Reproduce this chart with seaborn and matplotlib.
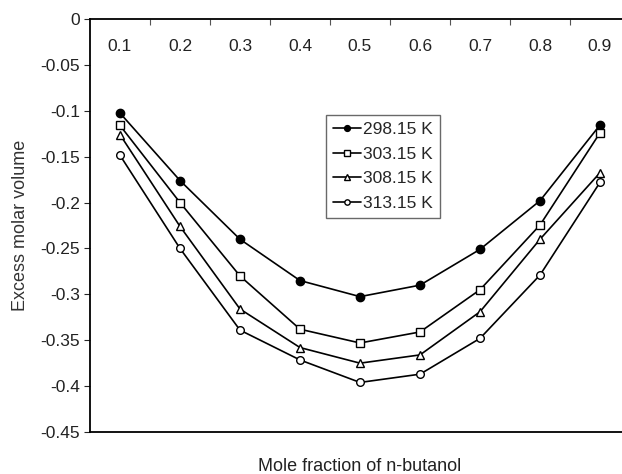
import matplotlib
matplotlib.use("Agg")
import matplotlib.pyplot as plt
import seaborn as sns
import pandas as pd
import numpy as np

x_vals = [0.1, 0.2, 0.3, 0.4, 0.5, 0.6, 0.7, 0.8, 0.9]
x_labels = ["0.1", "0.2", "0.3", "0.4", "0.5", "0.6", "0.7", "0.8", "0.9"]
v_298 = [-0.1025, -0.176, -0.240, -0.285, -0.3025, -0.290, -0.251, -0.198, -0.1155]
v_303 = [-0.116, -0.200, -0.280, -0.338, -0.353, -0.341, -0.295, -0.2245, -0.124]
v_308 = [-0.126, -0.226, -0.316, -0.358, -0.375, -0.366, -0.319, -0.240, -0.1675]
v_313 = [-0.1485, -0.250, -0.339, -0.3715, -0.396, -0.387, -0.348, -0.279, -0.178]
series_names = ["298.15 K", "303.15 K", "308.15 K", "313.15 K"]
y_ticks = [0, -0.05, -0.1, -0.15, -0.2, -0.25, -0.3, -0.35, -0.4, -0.45]
y_labels = ["0", "-0.05", "-0.1", "-0.15", "-0.2", "-0.25", "-0.3", "-0.35", "-0.4", "-0.45"]

sns.set_style("white")
plt.rcParams["font.family"] = ["Liberation Sans", "DejaVu Sans"]

W, H = 622, 474
fig = plt.figure(figsize=(W / 100, H / 100), dpi=100)
ax = fig.add_axes([90 / W, 42 / H, 540 / W, 413 / H])

styles = [
    dict(marker="o", markerfacecolor="black", markersize=6),
    dict(marker="s", markerfacecolor="white", markersize=5.5),
    dict(marker="^", markerfacecolor="white", markersize=6),
    dict(marker="o", markerfacecolor="white", markersize=5.5),
]
for name, vals, st in zip(series_names, [v_298, v_303, v_308, v_313], styles):
    df = pd.DataFrame({"x": x_vals, "y": vals})
    sns.lineplot(data=df, x="x", y="y", ax=ax, color="black", linewidth=1.2,
                 markeredgecolor="black", markeredgewidth=1.0, label=name, **st)

ax.set_xlim(0.05, 0.95)
ax.set_ylim(-0.45, 0)

# x ticks at top, labels drawn inside the plot area
ax.xaxis.tick_top()
ax.set_xticks(x_vals)
ax.set_xticklabels(x_labels)
ax.set_xticks(np.arange(0.15, 0.95, 0.1), minor=True)
ax.tick_params(axis="x", which="major", length=0, pad=-25, labelsize=12.5, labelcolor="#222222")
ax.tick_params(axis="x", which="minor", direction="in", length=4, width=0.8, color="#555555", top=True)

ax.set_yticks(y_ticks)
ax.set_yticklabels(y_labels)
ax.tick_params(axis="y", which="major", direction="out", length=4, width=0.8, left=True,
               labelsize=12.5, labelcolor="#222222", pad=3)

for side in ["top", "left", "bottom"]:
    ax.spines[side].set_color("black")
    ax.spines[side].set_linewidth(1.3)
ax.spines["right"].set_visible(False)

ax.set_ylabel("Excess molar volume", fontsize=13, color="#333333", labelpad=8)
ax.xaxis.set_label_position("bottom")
ax.set_xlabel("Mole fraction of n-butanol", fontsize=13, color="#222222", labelpad=19)

leg = ax.legend(loc="upper left", bbox_to_anchor=((326 - 90) / 540, (432 - 115) / 413),
                borderaxespad=0, frameon=True, fancybox=False, fontsize=12.5, markerscale=0.7,
                handlelength=1.6, handletextpad=0.15, labelspacing=0.55, borderpad=0.4)
leg.get_frame().set_edgecolor("#444444")
leg.get_frame().set_linewidth(1.0)

fig.savefig("out.png", dpi=100)
